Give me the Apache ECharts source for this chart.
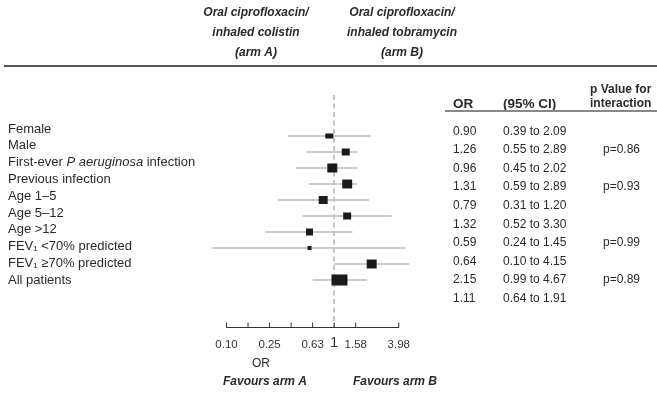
<!DOCTYPE html>
<html>
<head>
<meta charset="utf-8">
<script src="https://cdn.jsdelivr.net/npm/echarts@6/dist/echarts.min.js"></script>
<style>html,body{margin:0;padding:0;background:#fff;}#c{width:657px;height:394px;}</style>
</head>
<body>
<div id="c"></div>
<script>
// ---- data ----
const rowLabels = ["Female", "Male", "First-ever {i|P aeruginosa} infection", "Previous infection",
  "Age 1\u20135", "Age 5\u201312", "Age >12", "FEV\u2081 <70% predicted", "FEV\u2081 \u226570% predicted", "All patients"];
const plotOR = [0.90, 1.28, 0.96, 1.32, 0.79, 1.32, 0.59, 0.59, 2.23, 1.12];
const plotLo = [0.37, 0.55, 0.44, 0.58, 0.30, 0.51, 0.23, 0.074, 1.00, 0.63];
const plotHi = [2.19, 1.64, 1.64, 1.64, 2.11, 3.42, 1.48, 4.58, 4.98, 2.01];
// table texts
const tableOR = ["0.90", "1.26", "0.96", "1.31", "0.79", "1.32", "0.59", "0.64", "2.15", "1.11"];
const tableCI = ["0.39 to 2.09", "0.55 to 2.89", "0.45 to 2.02", "0.59 to 2.89", "0.31 to 1.20",
  "0.52 to 3.30", "0.24 to 1.45", "0.10 to 4.15", "0.99 to 4.67", "0.64 to 1.91"];
const pValues = ["", "p=0.86", "", "p=0.93", "", "", "p=0.99", "", "p=0.89", ""];
// axis ticks
const tickValues = [0.1, 0.1585, 0.2512, 0.3981, 0.631, 1, 1.585, 3.981];
const tickLabels = ["0.10", "", "0.25", "", "0.63", "1", "1.58", "3.98"];

// ---- styles (kept apart from data) ----
const boxW = [8, 8, 10, 10, 9, 8, 7, 4, 10, 16];
const boxH = [5, 7, 9, 9, 8, 7, 7, 4, 9, 11];
const FONT = '"Liberation Sans", Arial, Helvetica, sans-serif';
const TXT = '#2a2a2a';
const yMin = -2.5625, yMax = 11.9375;

const chart = echarts.init(document.getElementById('c'), null, {renderer: 'canvas'});

function txt(x, y, text, opt) {
  opt = opt || {};
  return {
    type: 'text', x: x, y: y, silent: true,
    style: Object.assign({
      text: text, fill: TXT, fontFamily: FONT, fontSize: 12,
      align: 'left', textAlign: 'left', verticalAlign: 'middle', textVerticalAlign: 'middle'
    }, opt)
  };
}

const g = [];
// header titles
const armA = ["Oral ciprofloxacin/", "inhaled colistin", "(arm A)"];
const armB = ["Oral ciprofloxacin/", "inhaled tobramycin", "(arm B)"];
armA.forEach((t, k) => g.push(txt(256, 13 + 20 * k, t, {fontSize: 12, fontWeight: 'bold', fontStyle: 'italic', align: 'center', textAlign: 'center'})));
armB.forEach((t, k) => g.push(txt(402, 13 + 20 * k, t, {fontSize: 12, fontWeight: 'bold', fontStyle: 'italic', align: 'center', textAlign: 'center'})));
g.push({type: 'line', silent: true, shape: {x1: 4, y1: 66, x2: 657, y2: 66}, style: {stroke: '#555', lineWidth: 2}});
// table header
g.push(txt(453, 104, "OR", {fontWeight: 'bold', fontSize: 13.5}));
g.push(txt(503, 104, "(95% CI)", {fontWeight: 'bold', fontSize: 13.5}));
g.push(txt(590, 90, "p Value for", {fontWeight: 'bold', fontSize: 12}));
g.push(txt(590, 104, "interaction", {fontWeight: 'bold', fontSize: 12}));
g.push({type: 'line', silent: true, shape: {x1: 445, y1: 111, x2: 657, y2: 111}, style: {stroke: '#888', lineWidth: 2}});
// row labels
rowLabels.forEach((t, i) => g.push({
  type: 'text', x: 8, y: 129 + i * 16.8, silent: true,
  style: {
    text: t, fill: TXT, fontFamily: FONT, fontSize: 13,
    align: 'left', textAlign: 'left', verticalAlign: 'middle', textVerticalAlign: 'middle',
    rich: {i: {fontStyle: 'italic', fontFamily: FONT, fontSize: 13, fill: TXT}}
  }
}));
// table rows
for (let i = 0; i < tableOR.length; i++) {
  const y = 131.5 + i * 18.55;
  g.push(txt(453, y, tableOR[i], {fontSize: 12}));
  g.push(txt(503, y, tableCI[i], {fontSize: 12}));
  if (pValues[i]) g.push(txt(603, y, pValues[i], {fontSize: 12}));
}
// bottom texts
g.push(txt(261, 364, "OR", {fontSize: 12, align: 'center', textAlign: 'center'}));
g.push(txt(265, 382, "Favours arm A", {fontSize: 12, fontWeight: 'bold', fontStyle: 'italic', align: 'center', textAlign: 'center'}));
g.push(txt(395, 382, "Favours arm B", {fontSize: 12, fontWeight: 'bold', fontStyle: 'italic', align: 'center', textAlign: 'center'}));

const ciData = plotOR.map((v, i) => [plotLo[i], plotHi[i], i]);
const ptData = plotOR.map((v, i) => [v, i]);

chart.setOption({
  animation: false,
  backgroundColor: '#fff',
  grid: {left: 226.5, right: 258.2, top: 95, height: 232},
  xAxis: {
    type: 'log', logBase: 10, min: 0.1, max: 3.981,
    axisLine: {show: true, onZero: false, lineStyle: {color: '#333', width: 1}},
    axisTick: {show: false}, axisLabel: {show: false}, splitLine: {show: false}
  },
  yAxis: {type: 'value', min: yMin, max: yMax, inverse: true, show: false},
  graphic: {elements: g},
  series: [
    {
      type: 'custom', name: 'CI', clip: false, z: 2,
      data: ciData,
      renderItem: function (params, api) {
        const p1 = api.coord([api.value(0), api.value(2)]);
        const p2 = api.coord([api.value(1), api.value(2)]);
        return {type: 'line', shape: {x1: p1[0], y1: p1[1], x2: p2[0], y2: p2[1]},
          style: {stroke: '#bdbdbd', lineWidth: 1.7}};
      },
      markLine: {
        silent: true, symbol: 'none', label: {show: false}, z: 1,
        lineStyle: {color: '#c4c4c4', type: [5, 3.5], width: 2},
        data: [{xAxis: 1}]
      }
    },
    {
      type: 'scatter', name: 'OR', clip: false, z: 3,
      symbol: 'rect',
      symbolSize: function (val, params) { return [boxW[params.dataIndex], boxH[params.dataIndex]]; },
      itemStyle: {color: '#1a1a1a', opacity: 1},
      data: ptData
    },
    {
      type: 'custom', name: 'ticks', clip: false, z: 4,
      data: tickValues.map((v, i) => [v, i]),
      renderItem: function (params, api) {
        const p = api.coord([api.value(0), yMax]);
        const lab = tickLabels[params.dataIndex];
        const children = [{type: 'line', shape: {x1: p[0], y1: p[1], x2: p[0], y2: p[1] - 4.5},
          style: {stroke: '#333', lineWidth: 1}}];
        if (lab) {
          const big = lab === '1';
          children.push({type: 'text', x: p[0], y: p[1] + (big ? 16 : 17.5),
            style: {text: lab, fill: '#333', fontFamily: FONT, fontSize: big ? 14 : 11.5,
              align: 'center', verticalAlign: 'middle', textAlign: 'center', textVerticalAlign: 'middle'}});
        }
        return {type: 'group', children: children};
      }
    }
  ]
});
</script>
</body>
</html>
